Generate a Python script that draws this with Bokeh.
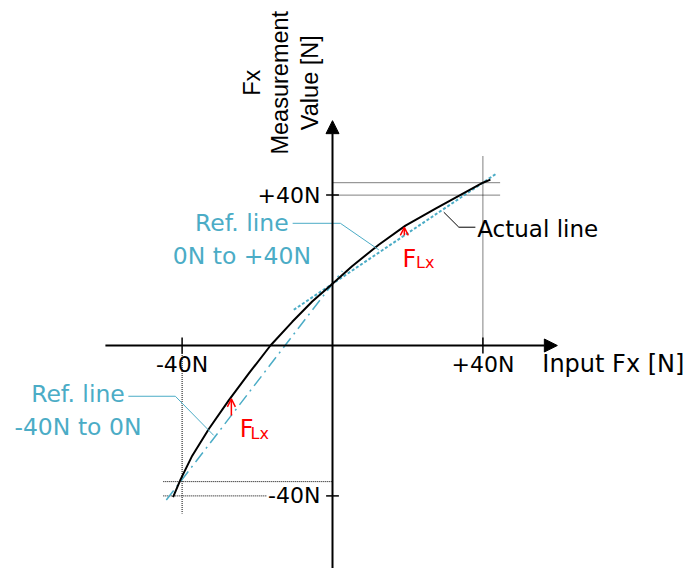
from bokeh.plotting import figure
from bokeh.models import Range1d, Arrow, NormalHead, OpenHead, ColumnDataSource
from bokeh.core.properties import value
from bokeh.embed import file_html
from bokeh.resources import INLINE
import math

# ---- data (units: N) ----
curve_x = [-42.4, -40.4, -37.3, -32.9, -27.6, -22.3, -16.5, -10.7, -5.4, 0.0,
           5.2, 12.3, 19.4, 27.4, 35.4, 40.0, 42.0]
curve_y = [-40.3, -35.6, -29.3, -22.2, -14.6, -7.5, 0.0, 6.3, 11.7, 16.4,
           21.1, 26.8, 31.9, 36.4, 40.8, 43.3, 44.1]

ref_upper_x = [-10.3, 43.4]
ref_upper_y = [9.5, 45.6]
ref_lower_x = [-44.2, 2.6]
ref_lower_y = [-41.1, 19.8]

x_axis_extent = [-60.4, 59.8]
y_axis_extent = [-60.0, 59.8]

tick_values = [-40, 40]
x_tick_labels = ["-40N", "+40N"]
y_tick_labels = ["-40N", "+40N"]

f_at_minus40 = -36.2
f_at_plus40 = 43.3

CYAN = "#4BACC6"
RED = "#FF0000"

p = figure(width=688, height=568, output_backend="svg", toolbar_location=None,
           x_range=Range1d(-88.30, 94.68), y_range=Range1d(-59.31, 91.76),
           min_border=0)
p.axis.visible = False
p.grid.visible = False
p.outline_line_color = None
p.background_fill_color = "white"
p.border_fill_color = "white"

# dotted guide lines
p.multi_line(xs=[[0, 44.7], [0, 44.7], [-45.0, 0], [-45.0, -17.5],
                 [-40, -40], [40, 40]],
             ys=[[f_at_plus40, f_at_plus40], [40, 40], [f_at_minus40, f_at_minus40], [-40, -40],
                 [-2.0, -44.7], [0, 50.5]],
             line_color="black", line_width=1, line_dash="1 1")

# axes with arrowheads
p.add_layout(Arrow(end=NormalHead(size=13, fill_color="black", line_color="black"),
                   x_start=x_axis_extent[0], y_start=0, x_end=x_axis_extent[1], y_end=0,
                   line_width=2, line_color="black"))
p.add_layout(Arrow(end=NormalHead(size=13, fill_color="black", line_color="black"),
                   x_start=0, y_start=y_axis_extent[0], x_end=0, y_end=y_axis_extent[1],
                   line_width=2, line_color="black"))

# ticks
p.multi_line(xs=[[t, t] for t in tick_values], ys=[[-2.1, 2.1] for t in tick_values],
             line_color="black", line_width=1.5)
p.multi_line(xs=[[-1.7, 1.7] for t in tick_values], ys=[[t, t] for t in tick_values],
             line_color="black", line_width=1.5)

# reference lines
p.line(ref_upper_x, ref_upper_y, line_color=CYAN, line_width=2, line_dash="3 2")
p.line(ref_lower_x, ref_lower_y, line_color=CYAN, line_width=1.5, line_dash="12 5 2 5")

# actual curve
p.line(curve_x, curve_y, line_color="black", line_width=2, line_join="round")

# leaders
p.multi_line(xs=[[-10.6, 2.1, 12.3], [-54.3, -41.8, -31.6]],
             ys=[[32.5, 32.5, 25.45], [-13.5, -13.5, -23.9]],
             line_color=CYAN, line_width=1)
p.line([29.6, 33.6, 38.0], [35.45, 31.46, 31.46], line_color="black", line_width=1)

# F_Lx arrows
arr_src = ColumnDataSource(dict(x0=[19.1, -26.9], y0=[29.25, -18.6], x1=[19.1, -26.9], y1=[31.4, -14.2]))
p.add_layout(Arrow(end=OpenHead(size=8, line_color=RED, line_width=1.5),
                   x_start="x0", y_start="y0", x_end="x1", y_end="y1", source=arr_src,
                   line_color=RED, line_width=1.5))

font = value("DejaVu Sans")
# tick labels
p.text(x=[-3.2, -3.2], y=tick_values, text=y_tick_labels, text_font=font, text_font_size="22px",
       text_align="right", text_baseline="middle", text_color="black")
p.text(x=tick_values, y=[-5.05, -5.05], text=x_tick_labels, text_font=font, text_font_size="22px",
       text_align="center", text_baseline="middle", text_color="black")
p.text(x=[55.8], y=[-5.05], text=["Input Fx [N]"], text_font=font, text_font_size="24px",
       text_align="left", text_baseline="middle", text_color="black")
p.text(x=[38.5], y=[31.0], text=["Actual line"], text_font=font, text_font_size="23px",
       text_align="left", text_baseline="middle", text_color="black")

ref_label_lines = ["Ref. line", "0N to +40N", "Ref. line", "-40N to 0N"]
p.text(x=[-24.1, -24.1, -67.7, -67.7], y=[32.7, 23.9, -13.0, -21.7], text=ref_label_lines,
       text_font=font, text_font_size="23.5px", text_align="center", text_baseline="middle",
       text_color=CYAN)

# F_Lx labels
p.text(x=[18.6, -24.65], y=[23.06, -22.15], text=["F", "F"], text_font=font, text_font_size="24px",
       text_align="left", text_baseline="alphabetic", text_color=RED)
p.text(x=[22.2, -21.8], y=[22.07, -23.3], text=["Lx", "Lx"], text_font=font, text_font_size="16px",
       text_align="left", text_baseline="alphabetic", text_color=RED)

# y-axis title (rotated)
y_title_lines = ["Fx", "Measurement", "Value [N]"]
p.text(x=[-21.3, -13.9, -5.9], y=[69.9, 69.9, 69.9], text=y_title_lines,
       text_font=value("Liberation Sans"), text_font_size="23.5px", angle=math.pi / 2,
       text_align="center", text_baseline="alphabetic", text_color="black")

open("out.html", "w").write(file_html(p, INLINE))
